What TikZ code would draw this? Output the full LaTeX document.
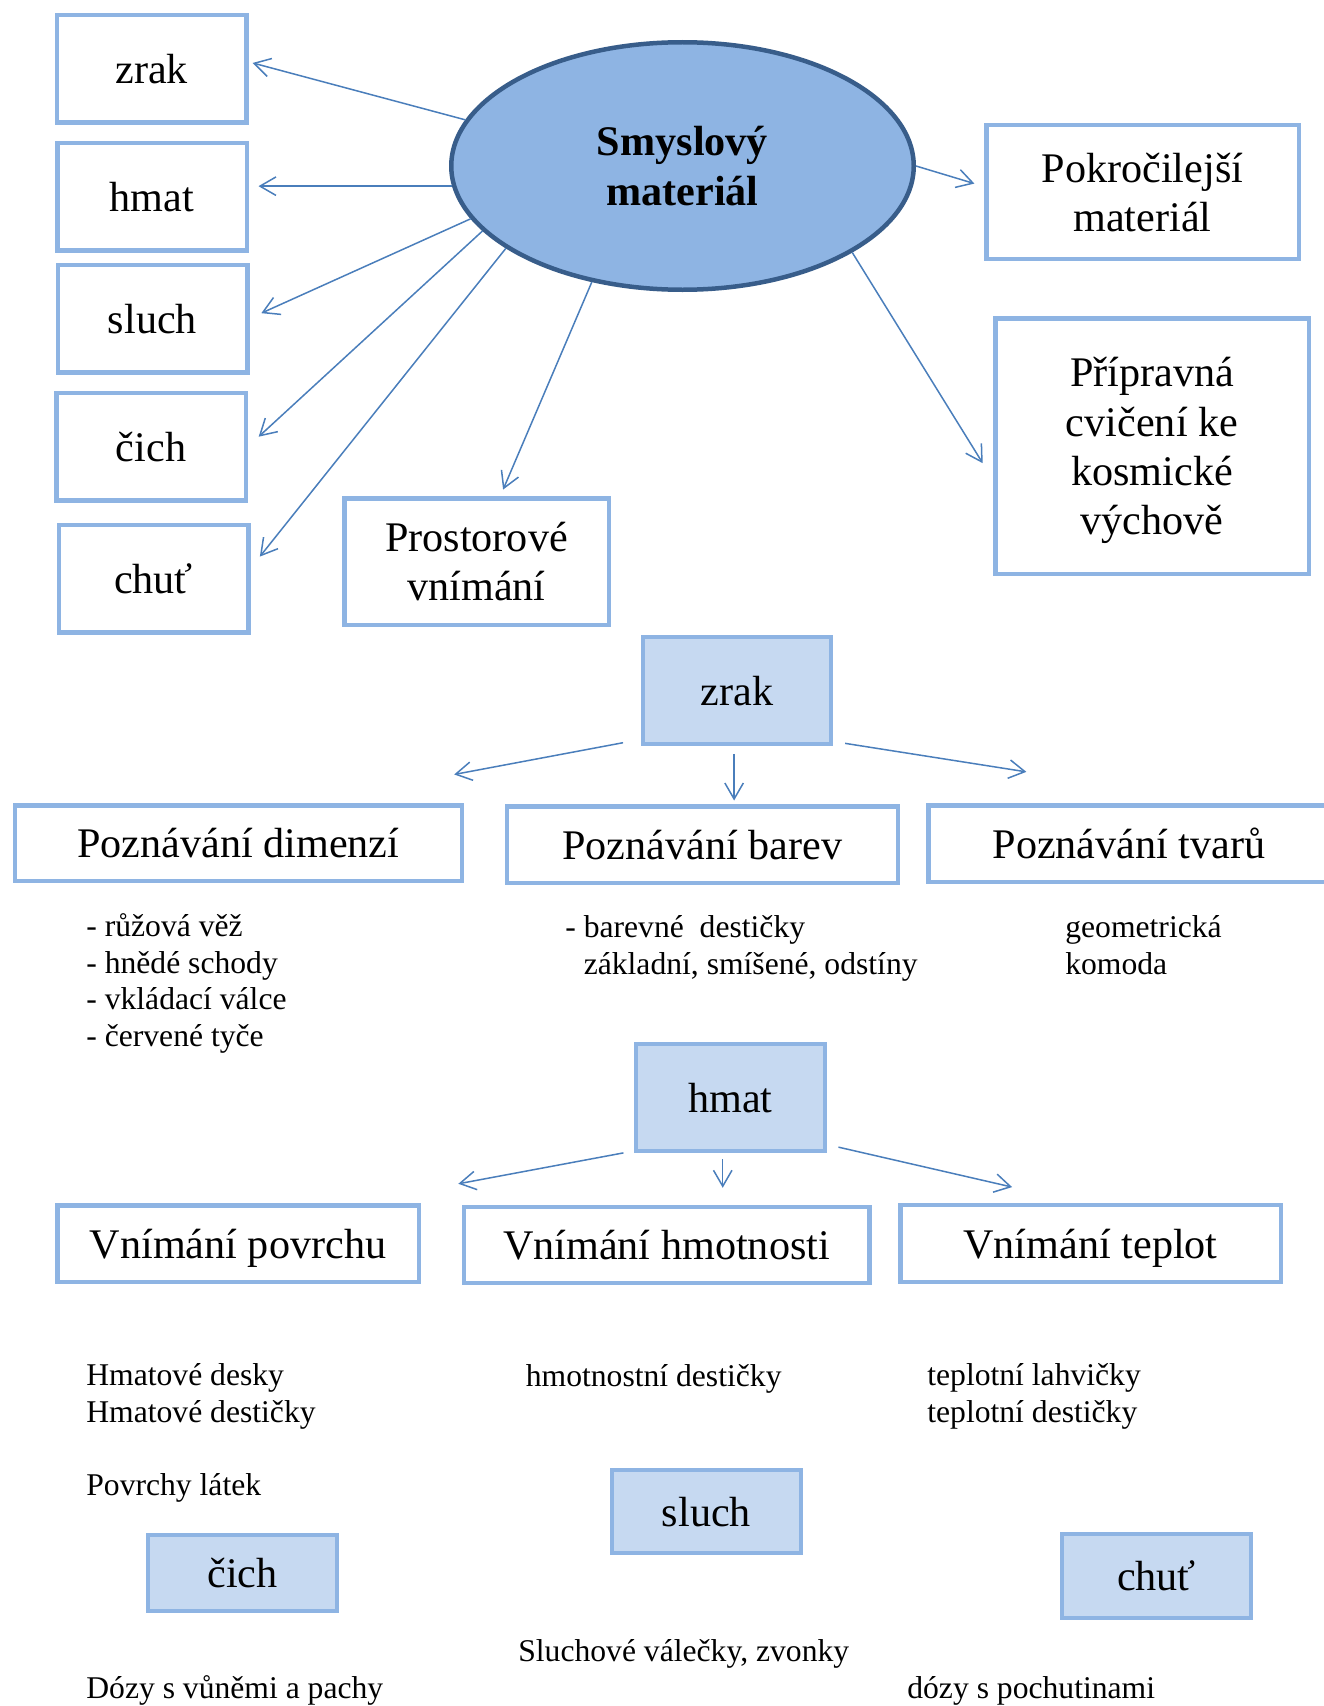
\documentclass[tikz,border=0pt]{standalone}
\usepackage{fontspec}
\setmainfont{Liberation Serif}
\usepackage{tikz}
\usetikzlibrary{shapes.geometric, arrows.meta, positioning, calc}

\definecolor{boxblue}{HTML}{8EB4E3}
\definecolor{paleblue}{HTML}{C6D9F1}
\definecolor{hubedge}{HTML}{385D8A}
\definecolor{linkblue}{HTML}{4A7EBB}

\begin{document}
\begin{tikzpicture}[
  sense/.style={draw=boxblue, fill=white, line width=0.09cm,
    inner sep=0pt, align=center, text depth=0pt,
    font=\fontsize{24}{28}\selectfont},
  topic/.style={sense, fill=paleblue, line width=0.07cm},
  hub/.style={ellipse, draw=hubedge, fill=boxblue, line width=0.09cm,
    inner sep=0pt, align=center, font=\fontsize{24}{28}\selectfont\bfseries},
  link/.style={-{Straight Barb[length=0.32cm, width=0.37cm]},
    draw=linkblue, line width=0.03cm},
  note/.style={anchor=base west, inner sep=0pt, align=left,
    font=\fontsize{18}{20.8}\selectfont}
]

\useasboundingbox (0,0) rectangle (26.46,-34.12);

%% ── Smyslový materiál ──
\node[hub, minimum width=9.25cm, minimum height=4.95cm] (smysl) at (13.65,-3.32)
  {Smyslový\\materiál};

\node[sense, minimum width=3.79cm, minimum height=2.15cm] (zrak)  at (3.035,-1.374) {zrak};
\node[sense, minimum width=3.79cm, minimum height=2.15cm] (hmat)  at (3.04,-3.93)   {hmat};
\node[sense, minimum width=3.79cm, minimum height=2.15cm] (sluch) at (3.05,-6.37)   {sluch};
\node[sense, minimum width=3.79cm, minimum height=2.15cm] (cich)  at (3.02,-8.93)   {čich};
\node[sense, minimum width=3.79cm, minimum height=2.15cm] (chut)  at (3.07,-11.57)  {chuť};

\node[sense, minimum width=5.29cm, minimum height=2.53cm] (prostor) at (9.53,-11.23)
  {Prostorové\\vnímání};
\node[sense, minimum width=6.25cm, minimum height=2.67cm] (pokroc) at (22.85,-3.84)
  {Pokročilejší\\materiál};
\node[sense, minimum width=6.27cm, minimum height=5.11cm] (priprav) at (23.04,-8.92)
  {Přípravná\\cvičení ke\\kosmické\\výchově};

\draw[link, shorten >=0.08cm] (smysl.168) -- (zrak.4);
\draw[link, shorten >=0.19cm] (smysl.185) -- (smysl.185 -| hmat.east);
\draw[link, shorten >=0.26cm] (smysl.194) -- (sluch.east);
\draw[link, shorten >=0.29cm] (smysl.198) -- (cich.east);
\draw[link, shorten >=0.3cm]  (smysl.205) -- (chut.6);
\draw[link, shorten >=0.14cm] (smysl.232) -- (prostor.70);
\draw[link, shorten >=0.2cm]  (smysl.east) -- (pokroc.178);
\draw[link, shorten >=0.39cm] (smysl.333) -- (priprav.192);

%% ── zrak ──
\node[topic, minimum width=3.76cm, minimum height=2.14cm] (zrakB) at (14.74,-13.81) {zrak};

\node[sense, minimum width=8.94cm, minimum height=1.51cm] (dimenze) at (4.767,-16.86)
  {Poznávání dimenzí};
\node[sense, minimum width=7.82cm, minimum height=1.53cm] (barvy) at (14.046,-16.89)
  {Poznávání barev};
\node[sense, minimum width=8.03cm, minimum height=1.53cm] (tvary) at (22.58,-16.87)
  {Poznávání tvarů};

\draw[link, shorten <=0.37cm, shorten >=3.09cm] (zrakB.207) -- (dimenze.32);
\draw[link, shorten <=0.16cm, shorten >=0.07cm] (zrakB.267) -- (zrakB.267 |- barvy.north);
\draw[link, shorten <=0.25cm, shorten >=4.01cm] (zrakB.332) -- (tvary.23);

% base = last line
\node[note] (dimenzeT) at (1.72,-20.93)
  {- růžová věž\\- hnědé schody\\- vkládací válce\\- červené tyče};
\node[note] (barvyT) at (11.3,-19.48)
  {- barevné\ \ destičky\\\hspace*{0.583em}základní, smíšené, odstíny};
\node[note] (tvaryT) at (21.3,-19.48) {geometrická\\komoda};

%% ── hmat ──
\node[topic, minimum width=3.78cm, minimum height=2.14cm] (hmatB) at (14.61,-21.95) {hmat};

\node[sense, minimum width=7.23cm, minimum height=1.53cm] (povrch) at (4.76,-24.87)
  {Vnímání povrchu};
\node[sense, minimum width=8.11cm, minimum height=1.52cm] (hmotnost) at (13.33,-24.90)
  {Vnímání hmotnosti};
\node[sense, minimum width=7.61cm, minimum height=1.54cm] (teplota) at (21.81,-24.87)
  {Vnímání teplot};

\draw[link, shorten <=0.22cm, shorten >=2.09cm] (hmatB.209) -- (povrch.19);
\draw[link, shorten <=0.13cm, shorten >=0.34cm] (hmatB.262) -- (hmatB.262 |- hmotnost.north);
\draw[link, shorten <=0.24cm, shorten >=1.4cm]  (hmatB.334) -- (teplota.104);

\node[note] (povrchT)   at (1.72,-28.45)  {Hmatové desky\\Hmatové destičky};
\node[note] (povrchU)   at (1.72,-29.9)   {Povrchy látek};
\node[note] (hmotnostT) at (10.51,-27.72) {hmotnostní destičky};
\node[note] (teplotaT)  at (18.54,-28.45) {teplotní lahvičky\\teplotní destičky};

%% ── sluch, čich, chuť ──
\node[topic, minimum width=3.78cm, minimum height=1.66cm] (sluchB) at (14.13,-30.23) {sluch};
\node[topic, minimum width=3.78cm, minimum height=1.52cm] (cichB)  at (4.85,-31.46)  {čich};
\node[topic, minimum width=3.78cm, minimum height=1.68cm] (chutB)  at (23.13,-31.52) {chuť};

\node[note] (sluchT) at (10.36,-33.22) {Sluchové válečky, zvonky};
\node[note] (cichT)  at (1.72,-33.97)  {Dózy s vůněmi a pachy};
\node[note] (chutT)  at (18.14,-33.97) {dózy s pochutinami};

\end{tikzpicture}
\end{document}
